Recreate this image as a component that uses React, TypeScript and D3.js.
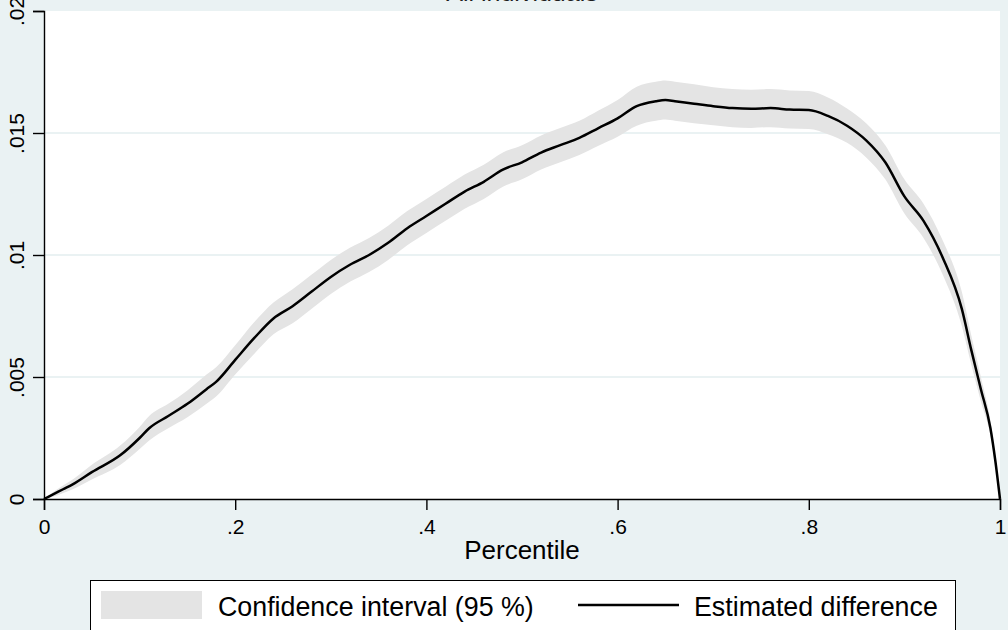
import React, { useRef, useEffect } from "react";
import * as d3 from "d3";

// percentile grid and estimates
const pct = [0, 0.01, 0.02, 0.03, 0.05, 0.08, 0.1, 0.11, 0.13, 0.15, 0.17, 0.18, 0.2, 0.22, 0.24, 0.26, 0.28, 0.3, 0.32, 0.34, 0.36, 0.38, 0.4, 0.42, 0.44, 0.46, 0.48, 0.5, 0.52, 0.54, 0.56, 0.58, 0.6, 0.62, 0.64, 0.65, 0.66, 0.68, 0.7, 0.72, 0.74, 0.76, 0.78, 0.8, 0.82, 0.84, 0.86, 0.88, 0.9, 0.92, 0.94, 0.96, 0.97, 0.98, 0.99, 0.995, 1];
const estimate = [0, 0.0002, 0.0004, 0.0006, 0.0011, 0.0018, 0.0025, 0.0029, 0.0034, 0.0039, 0.0045, 0.0048, 0.0057, 0.0066, 0.0074, 0.0079, 0.0085, 0.0091, 0.0096, 0.01, 0.0105, 0.0111, 0.0116, 0.0121, 0.0126, 0.013, 0.0135, 0.0138, 0.0142, 0.0145, 0.0148, 0.0152, 0.0156, 0.0161, 0.0163, 0.01635, 0.0163, 0.0162, 0.0161, 0.01602, 0.01599, 0.01602, 0.01596, 0.01594, 0.0157, 0.0153, 0.0147, 0.0138, 0.0124, 0.0114, 0.0099, 0.0078, 0.0061, 0.0045, 0.0029, 0.0016, 0];
const ciLow = [0, 0.0001, 0.00025, 0.0004, 0.0008, 0.0014, 0.00205, 0.0024, 0.0029, 0.00335, 0.0039, 0.0042, 0.0051, 0.00595, 0.00675, 0.0072, 0.0078, 0.0084, 0.0089, 0.0093, 0.0098, 0.0104, 0.0109, 0.0114, 0.0119, 0.0123, 0.0128, 0.0131, 0.0135, 0.0138, 0.0141, 0.01448, 0.01485, 0.0153, 0.0155, 0.01555, 0.0155, 0.0154, 0.01532, 0.01524, 0.01521, 0.01524, 0.01518, 0.01516, 0.01495, 0.0146, 0.014, 0.0131, 0.0117, 0.0107, 0.0092, 0.0071, 0.0055, 0.004, 0.0026, 0.0014, 0];
const ciHigh = [0, 0.0003, 0.00055, 0.0008, 0.0014, 0.0022, 0.00295, 0.0034, 0.0039, 0.00445, 0.0051, 0.0054, 0.0063, 0.00725, 0.00805, 0.0086, 0.0092, 0.0098, 0.0103, 0.0107, 0.0112, 0.0118, 0.0123, 0.0128, 0.0133, 0.0137, 0.0142, 0.0145, 0.0149, 0.0152, 0.0155, 0.01592, 0.01635, 0.0169, 0.0171, 0.01715, 0.0171, 0.017, 0.01688, 0.0168, 0.01677, 0.0168, 0.01674, 0.01672, 0.01645, 0.016, 0.0154, 0.0145, 0.0131, 0.0121, 0.0106, 0.0085, 0.0067, 0.005, 0.0032, 0.0018, 0];

const xTicks = [0, 0.2, 0.4, 0.6, 0.8, 1];
const xTickLabels = ["0", ".2", ".4", ".6", ".8", "1"];
const yTicks = [0, 0.005, 0.01, 0.015, 0.02];
const yTickLabels = ["0", ".005", ".01", ".015", ".02"];
const gridTicks = [0.005, 0.01, 0.015];

const titleText = "All individuals";
const xTitle = "Percentile";
const legendLabels = ["Confidence interval (95 %)", "Estimated difference"];

const W = 1008;
const H = 630;
const BG = "#eaf2f3";
const FONT = "'Liberation Sans', Arial, sans-serif";

export default function App() {
  const svgRef = useRef<SVGSVGElement>(null);

  useEffect(() => {
    const svg = d3.select(svgRef.current);
    svg.selectAll("*").remove();

    svg.append("rect").attr("width", W).attr("height", H).attr("fill", BG);

    const x = d3.scaleLinear().domain([0, 1]).range([44, 1000]);
    const y = d3.scaleLinear().domain([0, 0.02]).range([499, 11]);

    // title, mostly above the picture edge
    svg.append("text")
      .attr("x", 522)
      .attr("y", 0.5)
      .attr("text-anchor", "middle")
      .attr("font-family", FONT)
      .attr("font-size", 25)
      .attr("fill", "#1e1e1e")
      .text(titleText);

    // plot region
    svg.append("rect")
      .attr("x", x(0))
      .attr("y", y(0.02))
      .attr("width", x(1) - x(0))
      .attr("height", y(0) - y(0.02))
      .attr("fill", "#ffffff");

    svg.append("g")
      .selectAll("line")
      .data(gridTicks)
      .join("line")
      .attr("x1", x(0))
      .attr("x2", x(1))
      .attr("y1", (d) => y(d))
      .attr("y2", (d) => y(d))
      .attr("stroke", BG)
      .attr("stroke-width", 2);

    const rows = pct.map((p, i) => ({ p, est: estimate[i], lo: ciLow[i], hi: ciHigh[i] }));

    const band = d3.area<any>()
      .x((d) => x(d.p))
      .y0((d) => y(d.lo))
      .y1((d) => y(d.hi))
      .curve(d3.curveMonotoneX);

    svg.append("path")
      .datum(rows)
      .attr("d", band)
      .attr("fill", "#e4e4e4");

    const line = d3.line<any>()
      .x((d) => x(d.p))
      .y((d) => y(d.est))
      .curve(d3.curveMonotoneX);

    svg.append("path")
      .datum(rows)
      .attr("d", line)
      .attr("fill", "none")
      .attr("stroke", "#000")
      .attr("stroke-width", 2.5);

    // axes
    const xAxis = d3.axisBottom(x)
      .tickValues(xTicks)
      .tickSize(11)
      .tickPadding(8)
      .tickFormat((d, i) => xTickLabels[i]);

    const gx = svg.append("g").attr("transform", `translate(0, ${y(0)})`).call(xAxis);
    gx.select(".domain").attr("stroke", "#000").attr("stroke-width", 1.4);
    gx.selectAll(".tick line").attr("stroke", "#000").attr("stroke-width", 1.4);
    gx.selectAll(".tick text")
      .attr("font-family", FONT)
      .attr("font-size", 21)
      .attr("fill", "#000")
      .attr("dy", null)
      .attr("y", 35);

    const yAxis = d3.axisLeft(y)
      .tickValues(yTicks)
      .tickSize(11)
      .tickFormat((d, i) => yTickLabels[i]);

    const gy = svg.append("g").attr("transform", `translate(${x(0)}, 0)`).call(yAxis);
    gy.select(".domain").attr("stroke", "#000").attr("stroke-width", 1.4);
    gy.selectAll(".tick line").attr("stroke", "#000").attr("stroke-width", 1.4);
    gy.selectAll(".tick text")
      .attr("font-family", FONT)
      .attr("font-size", 21)
      .attr("fill", "#000")
      .attr("x", null)
      .attr("dy", null)
      .attr("text-anchor", "middle")
      .attr("transform", "translate(-20, 0) rotate(-90)");

    svg.append("text")
      .attr("x", 522)
      .attr("y", 559)
      .attr("text-anchor", "middle")
      .attr("font-family", FONT)
      .attr("font-size", 26)
      .attr("fill", "#000")
      .text(xTitle);

    // legend
    const lg = svg.append("g");
    lg.append("rect")
      .attr("x", 90.5)
      .attr("y", 580.5)
      .attr("width", 865)
      .attr("height", 70)
      .attr("fill", "#fff")
      .attr("stroke", "#000")
      .attr("stroke-width", 1);
    lg.append("rect")
      .attr("x", 101)
      .attr("y", 591)
      .attr("width", 101)
      .attr("height", 28)
      .attr("fill", "#e4e4e4");
    lg.append("text")
      .attr("x", 218)
      .attr("y", 616)
      .attr("font-family", FONT)
      .attr("font-size", 26.8)
      .attr("fill", "#000")
      .text(legendLabels[0]);
    lg.append("line")
      .attr("x1", 578)
      .attr("x2", 679)
      .attr("y1", 605)
      .attr("y2", 605)
      .attr("stroke", "#000")
      .attr("stroke-width", 2.5);
    lg.append("text")
      .attr("x", 694)
      .attr("y", 616)
      .attr("font-family", FONT)
      .attr("font-size", 26.8)
      .attr("fill", "#000")
      .text(legendLabels[1]);
  }, []);

  return (
    <div style={{ position: "absolute", left: 0, top: 0 }}>
      <svg ref={svgRef} width={W} height={H} style={{ display: "block" }}></svg>
    </div>
  );
}
